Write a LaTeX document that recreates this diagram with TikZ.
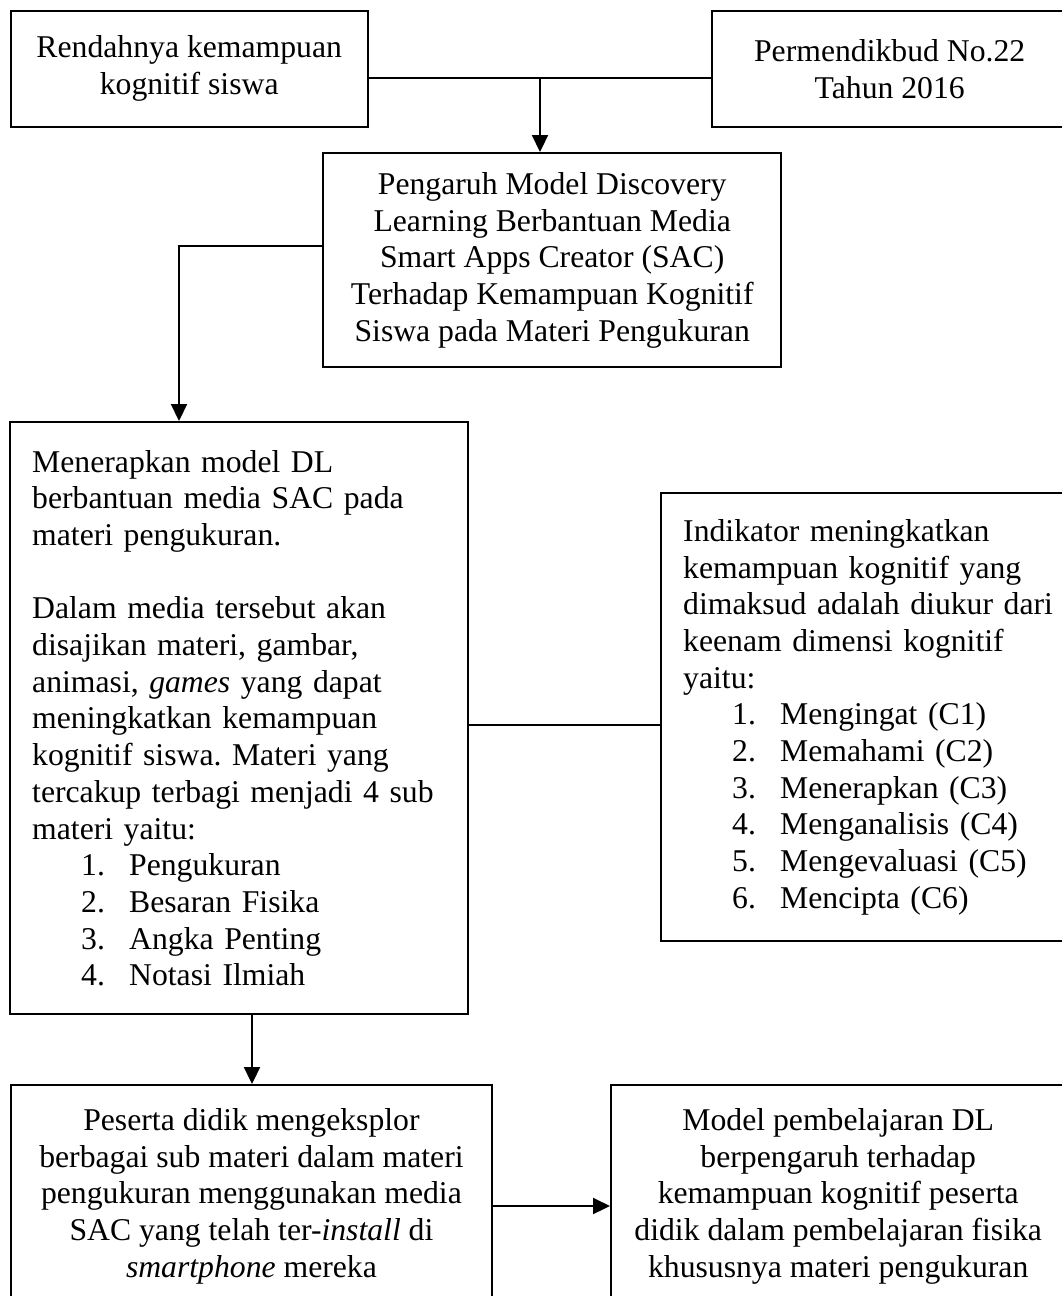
\documentclass[tikz,border=0pt]{standalone}
\usepackage{fontspec}
\setmainfont{Liberation Serif}
\usetikzlibrary{arrows.meta}
\frenchspacing
\newcommand{\itmA}[2]{\hspace*{49pt}\makebox[48pt][l]{#1}#2}
\begin{document}
\begin{tikzpicture}[x=1pt,y=-1pt,
  every node/.style={font=\fontsize{31.7}{36.7}\selectfont},
  boxc/.style={draw,line width=2.4pt,rectangle,inner sep=0pt,anchor=north west,align=center},
  boxl/.style={draw,line width=2.4pt,rectangle,inner sep=0pt,anchor=north west,align=left},
  conn/.style={line width=2.2pt},
  arr/.style={line width=2.2pt,-{Triangle[length=17pt,width=16pt]}}]
\useasboundingbox (0,0) rectangle (1062,1296);
\clip (0,0) rectangle (1062,1296);

\node[boxc,minimum width=357pt,minimum height=116pt] (b1) at (9.5,9.5)
  {Rendahnya kemampuan\\kognitif siswa};
\node[boxc,minimum width=355pt,minimum height=116pt] (b2) at (711,10)
  {Permendikbud No.22\\Tahun 2016};
\node[boxc,minimum width=458pt,minimum height=214pt] (b3) at (322,152)
  {Pengaruh Model Discovery\\Learning Berbantuan Media\\Smart Apps Creator (SAC)\\Terhadap Kemampuan Kognitif\\Siswa pada Materi Pengukuran};
\node[boxl,minimum width=458pt,minimum height=592pt,text width=414pt] (b4) at (9,421)
  {Menerapkan model DL\\berbantuan media SAC pada\\materi pengukuran.\\[36.7pt]
   Dalam media tersebut akan\\disajikan materi, gambar,\\animasi, \textit{games} yang dapat\\meningkatkan kemampuan\\kognitif siswa. Materi yang\\tercakup terbagi menjadi 4 sub\\materi yaitu:\\
   \itmA{1.}{Pengukuran}\\\itmA{2.}{Besaran Fisika}\\\itmA{3.}{Angka Penting}\\\itmA{4.}{Notasi Ilmiah}};
\node[boxl,minimum width=420pt,minimum height=448pt,text width=376pt] (b5) at (660,492)
  {Indikator meningkatkan\\kemampuan kognitif yang\\dimaksud adalah diukur dari\\keenam dimensi kognitif\\yaitu:\\
   \itmA{1.}{Mengingat (C1)}\\\itmA{2.}{Memahami (C2)}\\\itmA{3.}{Menerapkan (C3)}\\\itmA{4.}{Menganalisis (C4)}\\\itmA{5.}{Mengevaluasi (C5)}\\\itmA{6.}{Mencipta (C6)}};
\node[boxc,minimum width=481.5pt,minimum height=222pt] (b6) at (9.5,1084)
  {Peserta didik mengeksplor\\berbagai sub materi dalam materi\\pengukuran menggunakan media\\SAC yang telah ter-\textit{install} di\\\textit{smartphone} mereka};
\node[boxc,minimum width=454pt,minimum height=222pt] (b7) at (610,1084)
  {Model pembelajaran DL\\berpengaruh terhadap\\kemampuan kognitif peserta\\didik dalam pembelajaran fisika\\khususnya materi pengukuran};

\coordinate (j) at (540,78);
\coordinate (k) at (179,246);
\coordinate (m) at (0,725);
\coordinate (n) at (252,0);
\coordinate (p) at (0,1206);

\draw[conn] (b1.east |- j) -- (b2.west |- j);
\draw[arr] (j) -- (b3.north -| j);
\draw[arr] (b3.west |- k) -- (k) -- (b4.north -| k);
\draw[conn] (b4.east |- m) -- (b5.west |- m);
\draw[arr] (b4.south -| n) -- (b6.north -| n);
\draw[arr] (b6.east |- p) -- (b7.west |- p);
\end{tikzpicture}
\end{document}
